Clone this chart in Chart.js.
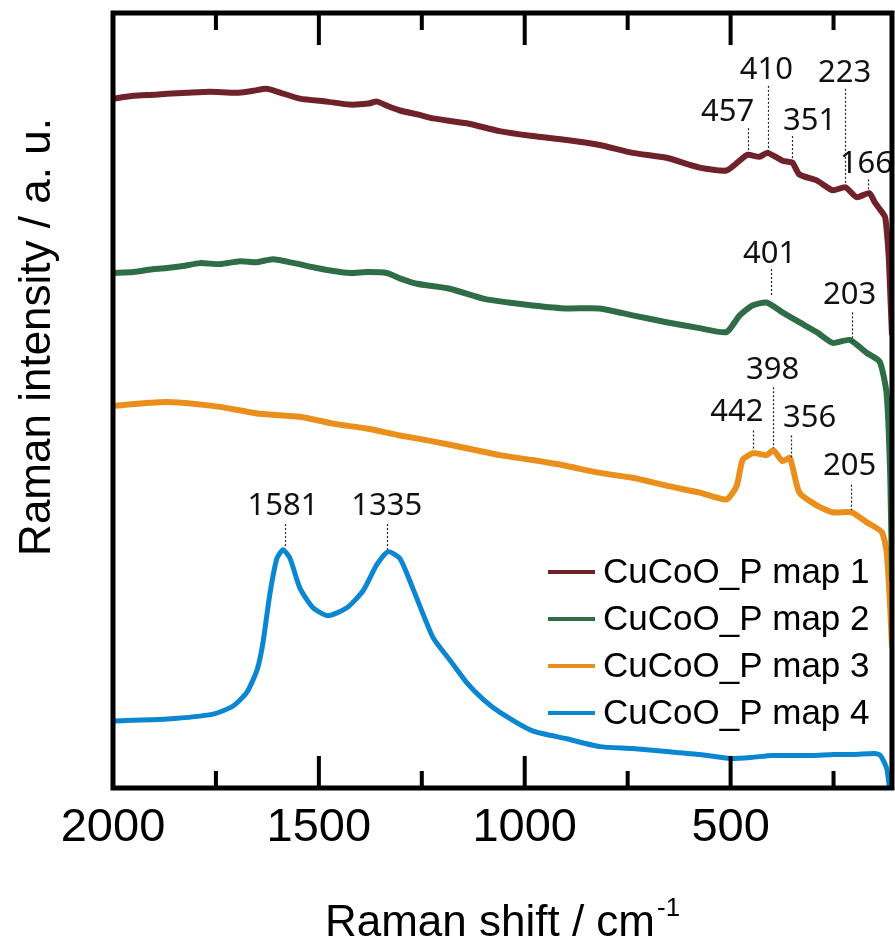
<!DOCTYPE html>
<html>
<head>
<meta charset="utf-8">
<script src="https://cdn.jsdelivr.net/npm/chart.js@4.4.1/dist/chart.umd.min.js"></script>
<style>
  body { margin: 0; background: #fff; }
  #wrap { width: 895px; height: 944px; position: relative; }
</style>
</head>
<body>
<div id="wrap"><canvas id="grafico"></canvas></div>
<script>
// Raman shift (cm-1) and intensity (a.u.)
const seriesNames = ["CuCoO_P map 1", "CuCoO_P map 2", "CuCoO_P map 3", "CuCoO_P map 4"];
const seriesColors = ["#70222a", "#2f6d46", "#ea8f1c", "#0b86d1"];

const shift1 = [2000, 1950, 1900, 1869, 1820, 1764, 1700, 1660, 1627, 1600, 1546, 1480, 1425, 1380, 1359, 1330, 1303, 1260, 1223, 1141, 1061, 981, 898, 818, 738, 656, 575, 510, 478, 459, 430, 410, 374, 350, 333, 291, 252, 221, 194, 163, 150, 138, 125, 121, 116, 112, 108];
const int1 = [700, 703, 704, 705, 706, 707, 706, 708, 710, 707, 700, 697, 694, 695, 697, 692, 688, 684, 680, 675, 667, 662, 658, 653, 645, 640, 630, 627, 637, 643, 641, 645, 637, 635, 623, 617, 607, 610, 600, 604, 595, 588, 580, 567, 540, 500, 460];

const shift2 = [2000, 1950, 1900, 1869, 1830, 1789, 1740, 1692, 1650, 1612, 1560, 1505, 1465, 1425, 1380, 1335, 1300, 1262, 1182, 1101, 1040, 981, 900, 818, 738, 656, 575, 510, 478, 447, 413, 374, 333, 291, 252, 211, 170, 138, 121, 112, 108];
const int2 = [523, 524, 527, 528, 530, 533, 532, 535, 534, 537, 533, 528, 525, 523, 524, 523, 517, 512, 507, 497, 493, 490, 487, 487, 480, 473, 467, 463, 480, 490, 493, 483, 473, 463, 452, 455, 442, 433, 400, 313, 210];

const shift3 = [2000, 1950, 1869, 1800, 1740, 1643, 1546, 1466, 1384, 1303, 1223, 1141, 1061, 981, 898, 818, 738, 656, 575, 510, 485, 471, 445, 413, 396, 374, 356, 333, 291, 252, 206, 170, 133, 121, 112, 108];
const int3 = [388, 390, 392, 390, 387, 380, 377, 370, 365, 358, 352, 345, 338, 333, 327, 320, 315, 307, 300, 293, 307, 333, 340, 338, 343, 332, 335, 300, 287, 280, 280, 270, 260, 240, 180, 143];

const shift4 = [2000, 1869, 1757, 1709, 1675, 1650, 1636, 1619, 1602, 1587, 1570, 1546, 1514, 1478, 1432, 1393, 1359, 1332, 1303, 1272, 1223, 1182, 1141, 1101, 1061, 981, 898, 818, 738, 656, 575, 500, 450, 400, 350, 300, 250, 200, 150, 136, 121, 114];
const int4 = [68, 70, 75, 83, 97, 120, 147, 197, 233, 242, 233, 203, 183, 175, 183, 200, 227, 240, 233, 203, 153, 130, 107, 90, 77, 58, 50, 42, 40, 37, 34, 30, 31, 33, 33, 33, 34, 34, 35, 33, 20, 0];

// x axis ticks (every 250, labelled every 500)
const xTicks = [2000, 1750, 1500, 1250, 1000, 750, 500, 250];

// peak labels: text, line x, line top/bottom, label x/y (data units)
const peakText = ["457", "410", "351", "223", "166", "401", "203", "442", "398", "356", "205", "1581", "1335"];
const peakShift = [457, 410, 351, 223, 166, 401, 206, 446, 398, 354, 207, 1583, 1335];
const peakTop = [670, 713, 662, 710, 618, 527, 483, 363, 407, 358, 308, 268, 268];
const peakBottom = [645, 647, 637, 613, 603, 500, 453, 343, 345, 335, 282, 244, 242];
const peakLabelX = [507, 413, 308, 223, 170, 405, 211, 485, 398, 308, 211, 1587, 1335];
const peakLabelY = [677, 720, 668, 717, 625, 533, 491, 373, 415, 367, 318, 277, 277];

const fam = "'Liberation Sans', Arial, sans-serif";

function pontos(xs, ys) {
  return xs.map((x, i) => ({ x: x, y: ys[i] }));
}

const datasets = [
  pontos(shift1, int1), pontos(shift2, int2), pontos(shift3, int3), pontos(shift4, int4)
].map((d, i) => ({
  label: seriesNames[i],
  data: d,
  borderColor: seriesColors[i],
  backgroundColor: seriesColors[i],
  borderWidth: i === 3 ? 5 : 6,
  pointRadius: 0,
  tension: 0.2,
  order: i,
}));

// frame, inward ticks, titles, peak labels and legend
const extras = {
  id: "extras",
  afterDraw(chart) {
    const { ctx, chartArea: a, scales } = chart;
    const sx = scales.x, sy = scales.y;
    ctx.save();

    // peak marker lines and labels
    ctx.strokeStyle = "#222";
    ctx.lineWidth = 1.2;
    ctx.setLineDash([2, 2]);
    for (let i = 0; i < peakText.length; i++) {
      const px = Math.round(sx.getPixelForValue(peakShift[i])) + 0.5;
      ctx.beginPath();
      ctx.moveTo(px, sy.getPixelForValue(peakTop[i]));
      ctx.lineTo(px, sy.getPixelForValue(peakBottom[i]));
      ctx.stroke();
    }
    ctx.setLineDash([]);
    ctx.fillStyle = "#111";
    ctx.font = "31px 'Noto Sans', sans-serif";
    ctx.textAlign = "center";
    ctx.textBaseline = "alphabetic";
    for (let i = 0; i < peakText.length; i++) {
      ctx.fillText(peakText[i], sx.getPixelForValue(peakLabelX[i]), sy.getPixelForValue(peakLabelY[i]));
    }

    // frame
    ctx.strokeStyle = "#000";
    ctx.lineWidth = 5;
    ctx.strokeRect(a.left, a.top, a.right - a.left, a.bottom - a.top);

    // inward ticks on bottom and top
    ctx.lineWidth = 4;
    sx.ticks.forEach((t) => {
      const px = sx.getPixelForValue(t.value);
      if (px <= a.left + 2 || px >= a.right - 2) return;
      const len = t.value % 500 === 0 ? 32 : 17;
      ctx.beginPath();
      ctx.moveTo(px, a.bottom);
      ctx.lineTo(px, a.bottom - len);
      ctx.moveTo(px, a.top);
      ctx.lineTo(px, a.top + len);
      ctx.stroke();
    });

    // x title with superscript
    ctx.fillStyle = "#000";
    ctx.textAlign = "left";
    ctx.textBaseline = "alphabetic";
    const main = "Raman shift / cm";
    ctx.font = "44px " + fam;
    const w1 = ctx.measureText(main).width;
    ctx.font = "26px " + fam;
    const w2 = ctx.measureText("-1").width;
    const cx = (a.left + a.right) / 2;
    const x0 = cx - (w1 + w2 + 2) / 2;
    ctx.font = "44px " + fam;
    ctx.fillText(main, x0, 936);
    ctx.font = "26px " + fam;
    ctx.fillText("-1", x0 + w1 + 2, 916);

    // y title
    ctx.save();
    ctx.translate(38, 337);
    ctx.rotate(-Math.PI / 2);
    ctx.font = "44px " + fam;
    ctx.textAlign = "center";
    ctx.textBaseline = "middle";
    ctx.fillText("Raman intensity / a. u.", 0, 0);
    ctx.restore();

    // legend
    ctx.font = "35px " + fam;
    ctx.textAlign = "left";
    chart.data.datasets.forEach((ds, i) => {
      const base = 583 + i * 47;
      ctx.strokeStyle = ds.borderColor;
      ctx.lineWidth = 4;
      ctx.beginPath();
      ctx.moveTo(548, base - 11);
      ctx.lineTo(595, base - 11);
      ctx.stroke();
      ctx.fillStyle = "#000";
      ctx.fillText(ds.label, 603, base);
    });

    ctx.restore();
  },
};

new Chart(document.getElementById("grafico"), {
  type: "line",
  data: { datasets: datasets },
  options: {
    responsive: true,
    maintainAspectRatio: false,
    animation: false,
    layout: { padding: { left: 113, top: 13, right: 3, bottom: 75.6 } },
    plugins: { legend: { display: false }, tooltip: { enabled: false } },
    scales: {
      x: {
        type: "linear",
        reverse: true,
        min: 108,
        max: 2000,
        afterBuildTicks: (scale) => {
          scale.ticks = xTicks.map((v) => ({ value: v }));
        },
        grid: { display: false, drawTicks: false },
        border: { display: false },
        ticks: {
          padding: 12,
          color: "#000",
          maxRotation: 0,
          autoSkip: false,
          font: { family: fam, size: 47 },
          callback: (v) => (v % 500 === 0 ? String(v) : ""),
        },
      },
      y: {
        display: false,
        min: 0,
        max: 787,
      },
    },
  },
  plugins: [extras],
});
</script>
</body>
</html>
